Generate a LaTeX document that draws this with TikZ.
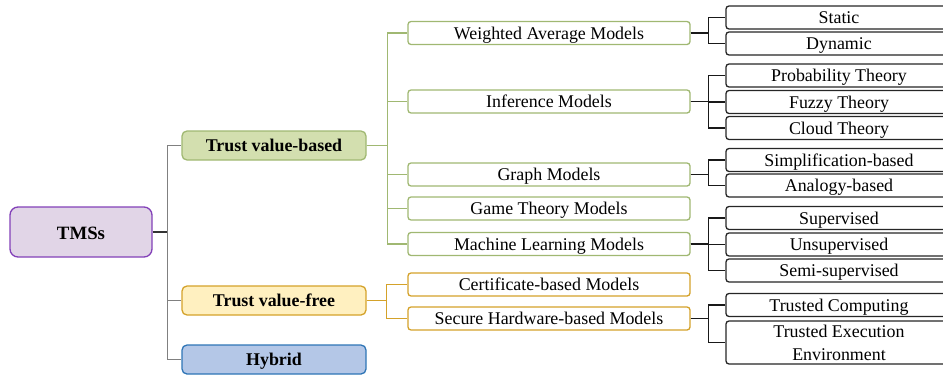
\documentclass[tikz,border=0pt]{standalone}
\usepackage{fontspec}
\setmainfont{Liberation Serif}
\usetikzlibrary{positioning,calc}

\definecolor{rootfill}{HTML}{E1D5E7}
\definecolor{rootline}{HTML}{8240B8}
\definecolor{grnfill}{HTML}{D3DFAF}
\definecolor{grnline}{HTML}{A0B872}
\definecolor{ylwfill}{HTML}{FFF0C0}
\definecolor{ylwline}{HTML}{D4A22A}
\definecolor{blufill}{HTML}{B4C7E7}
\definecolor{bluline}{HTML}{2E75B6}

\tikzset{
  box/.style={draw, rectangle, rounded corners=3pt, line width=1.3pt,
    align=center, inner sep=0pt, font=\fontsize{17.9}{22}\selectfont},
  oneline/.style={text height=16.5pt, text depth=4pt},
  rootbox/.style={box, rounded corners=8pt, fill=rootfill, draw=rootline,
    minimum width=142pt, minimum height=50pt, text height=18pt, text depth=4pt,
    font=\fontsize{18.8}{22}\selectfont\bfseries},
  catbox/.style={box, oneline, rounded corners=5pt, minimum width=184pt, minimum height=29pt,
    font=\fontsize{17.9}{22}\selectfont\bfseries},
  grncat/.style={catbox, fill=grnfill, draw=grnline},
  ylwcat/.style={catbox, fill=ylwfill, draw=ylwline},
  blucat/.style={catbox, fill=blufill, draw=bluline},
  midbox/.style={box, oneline, fill=white, minimum width=282pt, minimum height=23pt},
  grnmid/.style={midbox, draw=grnline},
  ylwmid/.style={midbox, draw=ylwline},
  leafbase/.style={box, fill=white, draw=black!85, minimum width=226pt, minimum height=23pt},
  leafbox/.style={leafbase, oneline},
  trunk/.style={draw=black!80, line width=1.3pt},
  rootlink/.style={draw=black!50, line width=1.3pt},
  grnlink/.style={draw=grnline, line width=1.3pt},
  ylwlink/.style={draw=ylwline, line width=1.3pt},
  leaflink/.style={draw=black!90, line width=1.3pt},
}

\begin{document}
\begin{tikzpicture}[x=1pt,y=-1pt]
\useasboundingbox (0,0) rectangle (943,375);
\clip (0,0) rectangle (943,375);

% root and categories
\node[rootbox] (tms) at (81,232) {TMSs};
\node[grncat] (tvb) at (274,145.5) {Trust value-based};
\node[ylwcat] (tvf) at (274,300.5) {Trust value-free};
\node[blucat] (hyb) at (274,359.5) {Hybrid};

% model families
\node[grnmid] (wam) at (549,33)    {Weighted Average Models};
\node[grnmid] (inf) at (549,101.5) {Inference Models};
\node[grnmid] (gra) at (549,174.5) {Graph Models};
\node[grnmid] (gam) at (549,208.5) {Game Theory Models};
\node[grnmid] (mlm) at (549,244)   {Machine Learning Models};
\node[ylwmid] (cer) at (549,284.5) {Certificate-based Models};
\node[ylwmid] (shm) at (549,318.5) {Secure Hardware-based Models};

% leaves
\node[leafbox] (sta) at (839,17.5)  {Static};
\node[leafbox] (dyn) at (839,43.5)  {Dynamic};
\node[leafbox] (pro) at (839,75.5)  {Probability Theory};
\node[leafbox] (fuz) at (839,102)   {Fuzzy Theory};
\node[leafbox] (clo) at (839,128)   {Cloud Theory};
\node[leafbox] (sim) at (839,160)   {Simplification-based};
\node[leafbox] (ana) at (839,185.5) {Analogy-based};
\node[leafbox] (sup) at (839,218)   {Supervised};
\node[leafbox] (uns) at (839,244.5) {Unsupervised};
\node[leafbox] (sem) at (839,270.5) {Semi-supervised};
\node[leafbox] (tco) at (839,305)   {Trusted Computing};
\node[leafbase, minimum height=43pt] (tee) at (839,342.5)
  {Trusted Execution\\[1pt]Environment};

% root connectors
\coordinate (rbus) at ([xshift=15pt]tms.east);
\draw[trunk] (tms.east) -- (rbus);
\foreach \c in {tvb,tvf,hyb} \draw[rootlink] (rbus) |- (\c.west);

% trust value-based connectors
\coordinate (gbus) at ([xshift=21pt]tvb.east);
\foreach \c in {wam,inf,gra,gam,mlm} \draw[grnlink] (tvb.east) -- (gbus) |- (\c.west);

% trust value-free connectors
\coordinate (ybus) at ([xshift=20pt]tvf.east);
\foreach \c in {cer,shm} \draw[ylwlink] (tvf.east) -- (ybus) |- (\c.west);

% leaf connectors
\foreach \p/\l in {wam/{sta,dyn}, inf/{pro,fuz,clo}, gra/{sim,ana}, mlm/{sup,uns,sem}, shm/{tco,tee}}{
  \coordinate (lb) at ([xshift=18pt]\p.east);
  \foreach \c in \l \draw[leaflink] (\p.east) -- (lb) |- (\c.west);
}
\end{tikzpicture}
\end{document}
